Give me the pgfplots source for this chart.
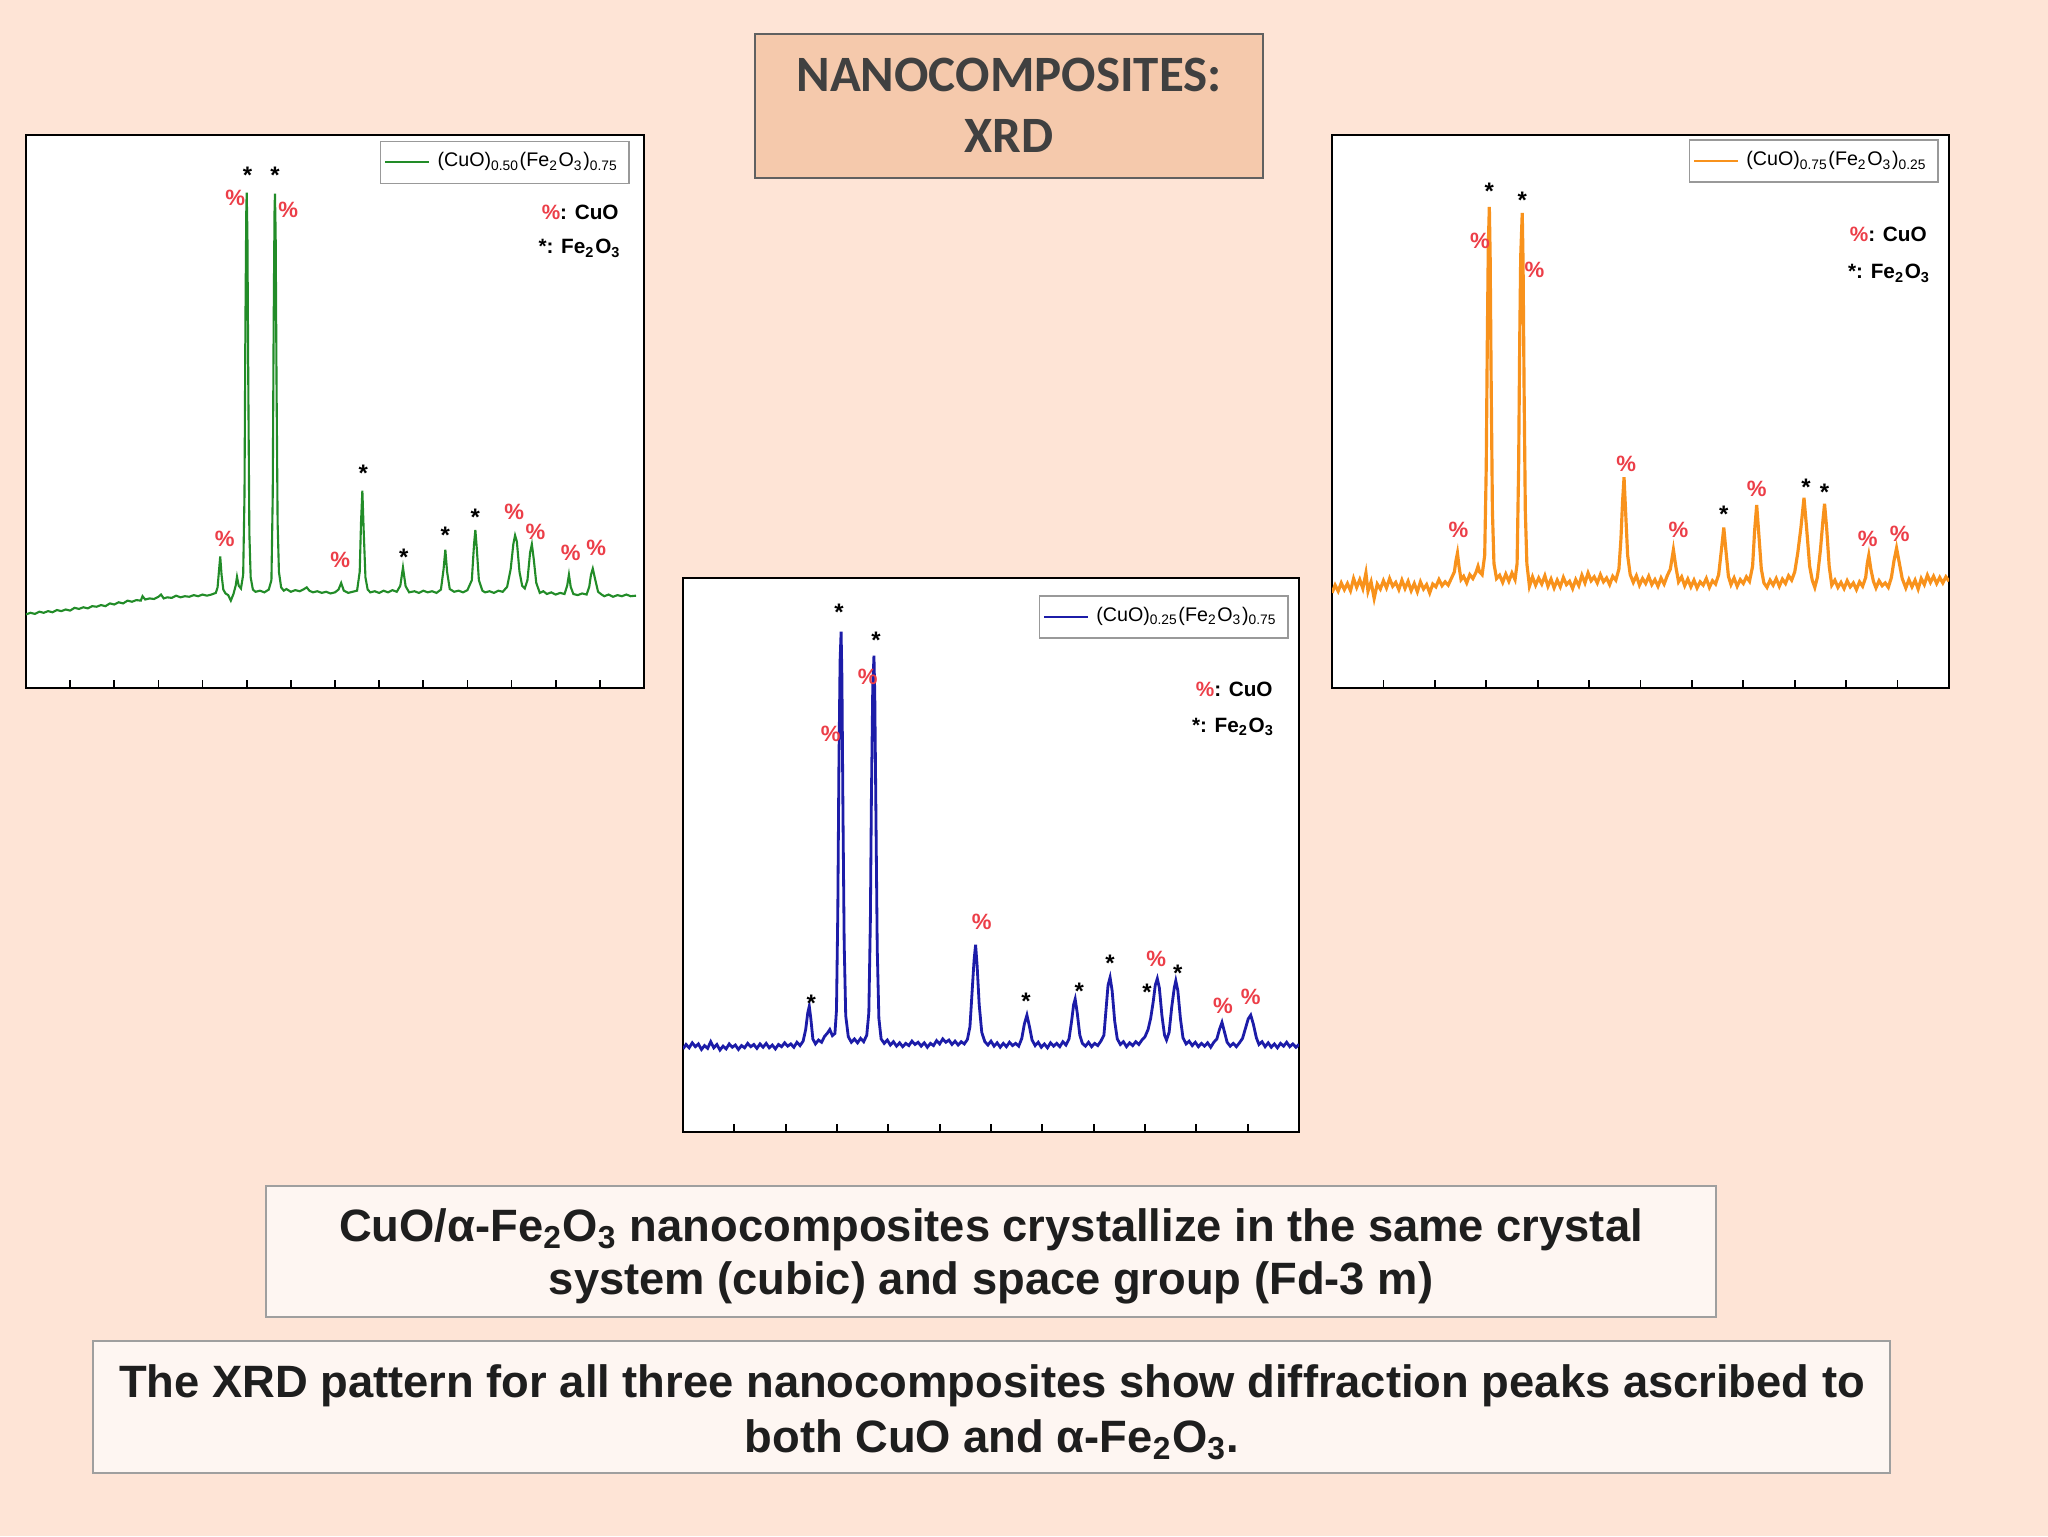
\documentclass[border=0pt]{standalone}
\usepackage{pgfplots}
\pgfplotsset{compat=1.18}
\usepackage{fontspec}
\setmainfont{Liberation Sans}
\newfontfamily\titlefont{Carlito}

\definecolor{slidebg}{RGB}{254,228,214}
\definecolor{titlefill}{RGB}{245,201,172}
\definecolor{boxfill}{RGB}{254,246,242}
\definecolor{darktext}{RGB}{64,64,64}
\definecolor{bodytext}{RGB}{30,30,30}
\definecolor{pctred}{RGB}{236,62,72}
\definecolor{xrdgreen}{RGB}{34,140,40}
\definecolor{xrdorange}{RGB}{248,146,28}
\definecolor{xrdblue}{RGB}{28,28,168}

\tikzset{
  pct/.style={text=pctred, font=\bfseries\fontsize{6.3}{7}\selectfont, inner sep=0pt},
  ast/.style={font=\bfseries\fontsize{6.8}{7}\selectfont, inner sep=0pt, yshift=-1.2pt},
  keytxt/.style={font=\bfseries\fontsize{5.9}{7}\selectfont, inner sep=0pt, anchor=east},
}

\pgfplotsset{
  xrdpanel/.style={
    scale only axis,
    axis background/.style={fill=white},
    axis line style={black, line width=0.8pt},
    ymin=0, ymax=100,
    ytick=\empty,
    xticklabels=\empty,
    xtick pos=lower,
    tick align=inside,
    major tick length=0.8mm,
    tick style={black, line width=0.5pt},
    legend cell align=left,
    legend style={draw=gray!80, line width=0.4pt, fill=white,
      font=\fontsize{5.6}{7}\selectfont, inner xsep=1pt, inner ysep=1.2pt,
      /tikz/every even column/.append style={column sep=0.5pt}},
    legend image code/.code={\draw[#1, line width=0.7pt] (0mm,0mm) -- (4.4mm,0mm);},
  },
}

\begin{document}
\begin{tikzpicture}[x=0.1mm, y=0.1mm]
% slide background
\fill[slidebg] (0,0) rectangle (2048,1536);

% title box
\draw[fill=titlefill, draw=gray!75!black, line width=0.6pt] (755,1358) rectangle (1263,1502);
\node[anchor=base, text=darktext, font=\titlefont\bfseries\fontsize{14.5}{16}\selectfont, inner sep=0pt] at (1009,1444) {NANOCOMPOSITES:};
\node[anchor=base, text=darktext, font=\titlefont\bfseries\fontsize{14.5}{16}\selectfont, inner sep=0pt] at (1009,1383) {XRD};

% ---------- left panel: (CuO)0.50(Fe2O3)0.75 ----------
\begin{axis}[xrdpanel, at={(2.6mm,84.8mm)}, anchor=south west,
  width=61.8mm, height=55.3mm,
  xmin=10, xmax=80, xtick={15,20,...,75},
  legend style={at={(0.977,0.99)}, anchor=north east}]
\addplot[xrdgreen, line width=0.6pt] coordinates {
(10.0,13.3) (10.5,13.6) (11.0,13.4) (11.5,13.8) (12.0,13.6) (12.5,13.9) (13.0,13.7) (13.5,14.1)
(14.0,13.9) (14.5,14.2) (15.0,14.0) (15.5,14.5) (16.0,14.3) (16.5,14.6) (17.0,14.4) (17.5,14.8)
(18.0,14.7) (18.5,15.0) (19.0,14.8) (19.5,15.3) (20.0,15.1) (20.5,15.5) (21.0,15.3) (21.5,15.8)
(22.0,15.6) (22.5,15.9) (23.0,15.8) (23.2,16.6) (23.5,16.0) (24.0,16.2) (24.5,16.1) (25.0,16.5)
(25.3,16.9) (25.6,16.2) (26.0,16.4) (26.5,16.3) (27.0,16.7) (27.5,16.4) (28.0,16.6) (28.5,16.5)
(29.0,16.8) (29.5,16.6) (30.0,16.9) (30.5,16.7) (31.0,16.9) (31.5,17.2)
(31.7,18.2) (31.85,21.0) (32.0,23.8) (32.15,20.5) (32.35,17.8) (32.6,17.1)
(32.9,16.8) (33.2,15.8) (33.5,17.0) (33.75,18.5) (33.9,20.1) (34.1,18.5)
(34.35,18.0) (34.6,20.5) (34.75,35) (34.85,65) (34.95,86) (35.0,89.6) (35.08,82) (35.18,55)
(35.3,28) (35.45,20) (35.7,17.8) (36.0,17.4) (36.5,17.6) (37.0,17.3) (37.5,17.8)
(37.8,19.5) (37.95,35) (38.05,65) (38.15,86) (38.2,89.4) (38.28,82) (38.38,55) (38.5,30)
(38.65,21) (38.9,18.2) (39.2,17.6) (39.5,17.9) (40.0,17.4) (40.5,17.7) (41.0,17.5) (41.5,17.9)
(41.8,18.2) (42.1,17.6) (42.5,17.3) (43.0,17.5) (43.5,17.2) (44.0,17.4) (44.5,17.1) (45.0,17.3)
(45.4,17.8) (45.7,19.0) (46.0,17.6) (46.5,17.2) (47.0,17.4) (47.5,17.6)
(47.8,21.0) (47.95,30.0) (48.1,35.7) (48.25,28.5) (48.45,20.0) (48.7,17.8) (49.0,17.3)
(49.5,17.5) (50.0,17.2) (50.5,17.6) (51.0,17.3) (51.5,17.7) (52.0,17.4)
(52.4,18.5) (52.7,21.8) (53.0,18.4) (53.4,17.3) (54.0,17.5) (54.5,17.2) (55.0,17.6) (55.5,17.3)
(56.0,17.5) (56.5,17.2) (57.0,17.8) (57.3,21.5) (57.5,25.0) (57.7,21.0) (58.0,17.9) (58.5,17.4)
(59.0,17.6) (59.5,17.3) (60.0,17.7) (60.5,19.5) (60.75,26.0) (60.9,28.6) (61.05,25.5) (61.3,19.5)
(61.7,17.6) (62.0,17.3) (62.5,17.5) (63.0,17.2) (63.5,17.6) (64.0,17.4) (64.5,18.3)
(64.9,21.5) (65.2,26.0) (65.4,27.6) (65.6,26.5) (65.9,21.0) (66.2,18.5) (66.5,18.0)
(66.8,19.5) (67.1,24.5) (67.3,26.0) (67.5,23.5) (67.8,19.0) (68.2,17.2) (68.6,17.5) (69.0,17.0)
(69.5,17.3) (70.0,16.9) (70.5,17.2) (71.0,17.0) (71.3,18.5) (71.5,20.5) (71.7,18.3) (72.0,17.0)
(72.5,16.8) (73.0,17.1) (73.5,16.9) (73.8,18.3) (74.0,20.5) (74.2,21.6) (74.45,19.8) (74.8,17.4)
(75.2,16.9) (75.5,16.6) (76.0,16.9) (76.5,16.5) (77.0,16.8) (77.5,16.6) (78.0,16.9) (78.5,16.6)
(79.1,16.7)
};
\addlegendentry{(CuO)\textsubscript{0.50}(Fe\textsubscript{2}O\textsubscript{3})\textsubscript{0.75}}
\node[pct] at (axis cs:32.5,26.9) {\%};
\node[pct] at (axis cs:33.7,88.6) {\%};
\node[ast] at (axis cs:35.1,93.5) {*};
\node[ast] at (axis cs:38.2,93.5) {*};
\node[pct] at (axis cs:39.7,86.4) {\%};
\node[pct] at (axis cs:45.6,23.1) {\%};
\node[ast] at (axis cs:48.2,39.6) {*};
\node[ast] at (axis cs:52.8,24.4) {*};
\node[ast] at (axis cs:57.5,28.4) {*};
\node[ast] at (axis cs:60.9,31.6) {*};
\node[pct] at (axis cs:65.3,31.8) {\%};
\node[pct] at (axis cs:67.7,28.2) {\%};
\node[pct] at (axis cs:71.7,24.4) {\%};
\node[pct] at (axis cs:74.6,25.3) {\%};
\node[keytxt] at (axis cs:77.2,86.0) {\textcolor{pctred}{\%}: CuO};
\node[keytxt] at (axis cs:77.5,79.5) {*: Fe\textsubscript{2}O\textsubscript{3}};
\end{axis}

% ---------- middle panel: (CuO)0.25(Fe2O3)0.75 ----------
\begin{axis}[xrdpanel, at={(68.3mm,40.4mm)}, anchor=south west,
  width=61.6mm, height=55.4mm,
  xmin=20, xmax=80, xtick={25,30,...,75},
  legend style={at={(0.983,0.969)}, anchor=north east}]
\addplot[xrdblue, line width=0.8pt] coordinates {
(20.0,15.0) (20.3,15.8) (20.6,15.2) (20.9,16.1) (21.2,15.4) (21.5,15.9) (21.8,14.9) (22.1,15.6)
(22.4,15.1) (22.7,16.3) (23.0,15.2) (23.3,15.8) (23.6,14.8) (23.9,15.5) (24.2,15.0) (24.5,15.9)
(24.8,15.3) (25.1,15.7) (25.4,14.9) (25.7,15.6) (26.0,15.2) (26.3,16.0) (26.6,15.4) (26.9,15.8)
(27.2,15.1) (27.5,15.9) (27.8,15.3) (28.1,16.0) (28.4,15.2) (28.7,15.7) (29.0,15.0) (29.3,15.8)
(29.6,15.4) (29.9,16.1) (30.2,15.5) (30.5,15.9) (30.8,15.3) (31.1,16.2) (31.4,15.6) (31.7,16.4)
(31.95,18.5) (32.15,21.5) (32.3,22.7) (32.45,20.5) (32.65,16.8) (32.9,15.9) (33.2,16.6) (33.5,16.2)
(33.8,17.3) (34.05,17.8) (34.3,18.5) (34.55,17.4) (34.8,17.8)
(34.95,22.0) (35.08,40.0) (35.18,65.0) (35.3,85.0) (35.4,90.3) (35.48,82.0) (35.58,58.0) (35.7,34.0)
(35.85,21.0) (36.1,17.2) (36.4,16.2) (36.7,16.8) (37.0,16.1) (37.3,16.9) (37.6,16.3) (37.9,17.5)
(38.1,21.5) (38.25,38.0) (38.35,60.0) (38.48,80.0) (38.6,86.0) (38.68,79.0) (38.8,56.0) (38.92,33.0)
(39.08,20.5) (39.3,16.8) (39.6,16.0) (39.9,16.6) (40.2,15.7) (40.5,16.3) (40.8,15.5) (41.1,16.1)
(41.4,15.4) (41.7,16.0) (42.0,15.6) (42.3,16.4) (42.6,15.8) (42.9,16.2) (43.2,15.5) (43.5,16.1)
(43.8,15.3) (44.1,16.0) (44.4,15.6) (44.7,16.5) (45.0,15.9) (45.3,16.8) (45.6,16.2) (45.9,16.6)
(46.2,15.8) (46.5,16.4) (46.8,15.7) (47.1,16.3) (47.4,15.9) (47.7,16.7)
(47.95,19.0) (48.15,25.0) (48.35,31.0) (48.5,33.8) (48.65,30.0) (48.85,23.0) (49.1,18.0) (49.4,16.3)
(49.7,15.7) (50.0,16.4) (50.3,15.5) (50.6,16.1) (50.9,15.3) (51.2,16.0) (51.5,15.4) (51.8,16.2)
(52.1,15.6) (52.4,16.0) (52.7,15.5) (53.0,16.9) (53.25,19.5) (53.5,21.1) (53.75,19.0) (54.0,16.6)
(54.3,15.6) (54.6,16.2) (54.9,15.3) (55.2,15.9) (55.5,15.2) (55.8,16.1) (56.1,15.5) (56.4,16.0)
(56.7,15.4) (57.0,16.3) (57.3,15.7) (57.6,16.8) (57.85,20.0) (58.05,23.0) (58.2,24.0) (58.4,21.5)
(58.65,17.5) (58.9,16.0) (59.2,15.5) (59.5,16.2) (59.8,15.4) (60.1,16.0) (60.4,15.6) (60.7,16.4)
(61.0,17.5) (61.2,22.0) (61.4,26.5) (61.6,27.9) (61.8,25.5) (62.05,20.0) (62.3,16.8) (62.6,15.8)
(62.9,16.3) (63.2,15.4) (63.5,16.1) (63.8,15.6) (64.1,16.3) (64.4,15.8) (64.7,16.6) (65.0,17.2)
(65.3,18.5) (65.55,20.5) (65.8,23.5) (66.0,26.5) (66.2,27.7) (66.4,26.0) (66.65,21.0) (66.9,17.5)
(67.1,16.6) (67.35,18.0) (67.6,22.5) (67.85,26.0) (68.0,27.3) (68.2,25.5) (68.45,20.5) (68.7,17.0)
(69.0,15.9) (69.3,16.4) (69.6,15.6) (69.9,16.2) (70.2,15.4) (70.5,16.0) (70.8,15.5) (71.1,16.1)
(71.4,15.3) (71.7,16.2) (72.0,16.8) (72.25,18.5) (72.5,19.8) (72.75,18.0) (73.0,16.2) (73.3,15.5)
(73.6,16.0) (73.9,15.4) (74.2,16.1) (74.5,16.9) (74.8,18.8) (75.05,20.4) (75.3,21.1) (75.55,19.5)
(75.85,17.0) (76.1,15.8) (76.4,16.3) (76.7,15.4) (77.0,16.1) (77.3,15.3) (77.6,15.9) (77.9,15.2)
(78.2,16.0) (78.5,15.5) (78.8,16.2) (79.1,15.4) (79.4,15.9) (79.7,15.3) (80.0,15.8)
};
\addlegendentry{(CuO)\textsubscript{0.25}(Fe\textsubscript{2}O\textsubscript{3})\textsubscript{0.75}}
\node[ast] at (axis cs:32.5,24.0) {*};
\node[ast] at (axis cs:35.2,94.5) {*};
\node[pct] at (axis cs:34.4,71.8) {\%};
\node[ast] at (axis cs:38.8,89.6) {*};
\node[pct] at (axis cs:38.0,82.1) {\%};
\node[pct] at (axis cs:49.1,38.0) {\%};
\node[ast] at (axis cs:53.4,24.4) {*};
\node[ast] at (axis cs:58.6,26.2) {*};
\node[ast] at (axis cs:61.6,31.2) {*};
\node[ast] at (axis cs:65.2,26.0) {*};
\node[pct] at (axis cs:66.1,31.2) {\%};
\node[ast] at (axis cs:68.2,29.5) {*};
\node[pct] at (axis cs:72.6,22.7) {\%};
\node[pct] at (axis cs:75.3,24.4) {\%};
\node[keytxt] at (axis cs:77.5,79.9) {\textcolor{pctred}{\%}: CuO};
\node[keytxt] at (axis cs:77.7,73.1) {*: Fe\textsubscript{2}O\textsubscript{3}};
\end{axis}

% ---------- right panel: (CuO)0.75(Fe2O3)0.25 ----------
\begin{axis}[xrdpanel, at={(133.2mm,84.8mm)}, anchor=south west,
  width=61.7mm, height=55.3mm,
  xmin=20, xmax=80, xtick={25,30,...,75},
  legend style={at={(0.983,0.992)}, anchor=north east}]
\addplot[xrdorange, line width=0.9pt] coordinates {
(20.0,17.2) (20.3,18.6) (20.6,17.5) (20.9,19.0) (21.2,17.8) (21.5,18.9) (21.8,17.6) (22.1,19.8)
(22.4,18.2) (22.7,19.6) (23.0,18.0) (23.3,20.8) (23.5,17.5) (23.8,19.2) (24.1,16.2) (24.4,18.8)
(24.7,17.9) (25.0,19.4) (25.3,18.1) (25.6,19.8) (25.9,18.4) (26.2,19.1) (26.5,17.8) (26.8,19.5)
(27.1,18.0) (27.4,19.3) (27.7,17.6) (28.0,18.9) (28.3,17.4) (28.6,19.2) (28.9,17.9) (29.2,18.7)
(29.5,17.2) (29.8,18.8) (30.1,18.3) (30.4,19.6) (30.7,18.5) (31.0,19.2) (31.3,18.6) (31.6,19.8)
(31.9,21.0) (32.05,23.0) (32.2,24.4) (32.35,22.0) (32.55,19.6) (32.8,20.2) (33.1,19.0) (33.4,20.5)
(33.7,19.8) (34.0,20.9) (34.2,22.0) (34.35,21.0) (34.6,20.5)
(34.85,24.0) (35.0,40.0) (35.1,62.0) (35.2,80.0) (35.3,87.0) (35.38,78.0) (35.48,55.0) (35.6,32.0)
(35.75,22.5) (36.0,19.8) (36.3,20.4) (36.6,19.1) (36.9,20.6) (37.2,19.3) (37.5,20.8) (37.8,19.6)
(38.0,22.5) (38.15,40.0) (38.25,62.0) (38.35,78.0) (38.5,85.9) (38.58,77.0) (38.68,54.0) (38.8,32.0)
(38.95,22.5) (39.2,18.4) (39.5,20.1) (39.8,18.6) (40.1,19.9) (40.4,18.8) (40.7,20.3) (41.0,18.4)
(41.3,19.7) (41.6,18.1) (41.9,19.5) (42.2,18.3) (42.5,20.0) (42.8,18.7) (43.1,19.3) (43.4,18.0)
(43.7,19.6) (44.0,18.5) (44.3,20.4) (44.6,19.0) (44.9,20.8) (45.2,19.4) (45.5,20.1) (45.8,19.0)
(46.1,20.5) (46.4,19.2) (46.7,19.9) (47.0,18.7) (47.3,20.2) (47.6,19.5)
(47.9,21.5) (48.1,27.0) (48.25,33.5) (48.4,38.1) (48.55,32.0) (48.75,24.0) (49.0,20.5) (49.3,19.1)
(49.6,20.3) (49.9,18.6) (50.2,19.8) (50.5,18.9) (50.8,20.2) (51.1,18.7) (51.4,19.6) (51.7,18.4)
(52.0,19.9) (52.3,18.8) (52.6,20.3) (52.9,21.5) (53.2,25.0) (53.45,21.8) (53.7,19.2) (54.0,20.1)
(54.3,18.5) (54.6,19.7) (54.9,18.3) (55.2,19.5) (55.5,18.1) (55.8,19.2) (56.1,18.6) (56.4,19.8)
(56.7,18.2) (57.0,19.4) (57.3,18.8) (57.6,20.5) (57.9,25.5) (58.1,29.0) (58.3,25.0) (58.55,20.2)
(58.8,18.7) (59.1,19.9) (59.4,18.4) (59.7,19.6) (60.0,18.9) (60.3,20.1) (60.6,19.3)
(60.9,22.0) (61.1,28.5) (61.3,33.1) (61.5,28.0) (61.75,21.5) (62.0,19.0) (62.3,18.2) (62.6,19.5)
(62.9,18.6) (63.2,19.8) (63.5,18.4) (63.8,19.7) (64.1,18.9) (64.4,20.3) (64.7,19.5) (65.0,21.0)
(65.3,24.5) (65.6,29.0) (65.9,34.4) (66.15,29.0) (66.45,22.0) (66.7,19.5) (66.95,18.2) (67.2,20.0)
(67.5,25.0) (67.75,30.5) (67.9,33.3) (68.1,29.0) (68.35,22.0) (68.6,18.6) (68.9,19.5) (69.2,18.2)
(69.5,19.1) (69.8,18.0) (70.1,19.4) (70.4,18.3) (70.7,19.0) (71.0,17.8) (71.3,19.2) (71.6,18.4)
(71.9,20.0) (72.05,22.5) (72.2,24.0) (72.4,21.5) (72.65,19.3) (72.9,18.1) (73.2,19.4) (73.5,18.5)
(73.8,19.0) (74.1,18.2) (74.4,20.0) (74.65,23.0) (74.9,25.3) (75.15,22.8) (75.45,19.8) (75.8,18.1)
(76.1,19.6) (76.4,18.3) (76.7,19.5) (77.0,17.9) (77.3,19.8) (77.6,18.7) (77.9,20.4) (78.2,19.1)
(78.5,20.2) (78.8,18.9) (79.1,20.0) (79.4,19.0) (79.7,20.1) (80.0,19.3)
};
\addlegendentry{(CuO)\textsubscript{0.75}(Fe\textsubscript{2}O\textsubscript{3})\textsubscript{0.25}}
\node[pct] at (axis cs:32.3,28.6) {\%};
\node[ast] at (axis cs:35.3,90.6) {*};
\node[pct] at (axis cs:34.4,80.8) {\%};
\node[ast] at (axis cs:38.5,89.0) {*};
\node[pct] at (axis cs:39.7,75.6) {\%};
\node[pct] at (axis cs:48.6,40.6) {\%};
\node[pct] at (axis cs:53.7,28.6) {\%};
\node[ast] at (axis cs:58.1,32.1) {*};
\node[pct] at (axis cs:61.3,36.0) {\%};
\node[ast] at (axis cs:66.1,37.0) {*};
\node[ast] at (axis cs:67.9,36.2) {*};
\node[pct] at (axis cs:72.1,26.9) {\%};
\node[pct] at (axis cs:75.2,27.9) {\%};
\node[keytxt] at (axis cs:77.9,82.1) {\textcolor{pctred}{\%}: CuO};
\node[keytxt] at (axis cs:78.3,75.0) {*: Fe\textsubscript{2}O\textsubscript{3}};
\end{axis}

% text boxes
\draw[fill=boxfill, draw=gray!75, line width=0.7pt] (266,219) rectangle (1716,350);
\node[anchor=base, text=bodytext, font=\bfseries\fontsize{12.9}{14}\selectfont, inner sep=0pt] at (991,295)
  {CuO/α-Fe\textsubscript{2}O\textsubscript{3} nanocomposites crystallize in the same crystal};
\node[anchor=base, text=bodytext, font=\bfseries\fontsize{12.9}{14}\selectfont, inner sep=0pt] at (991,242)
  {system (cubic) and space group (Fd-3 m)};

\draw[fill=boxfill, draw=gray!75, line width=0.7pt] (93,63) rectangle (1890,195);
\node[anchor=base, text=bodytext, font=\bfseries\fontsize{12.9}{14}\selectfont, inner sep=0pt] at (992,139)
  {The XRD pattern for all three nanocomposites show diffraction peaks ascribed to};
\node[anchor=base, text=bodytext, font=\bfseries\fontsize{12.9}{14}\selectfont, inner sep=0pt] at (992,84)
  {both CuO and α-Fe\textsubscript{2}O\textsubscript{3}.};
\end{tikzpicture}
\end{document}
